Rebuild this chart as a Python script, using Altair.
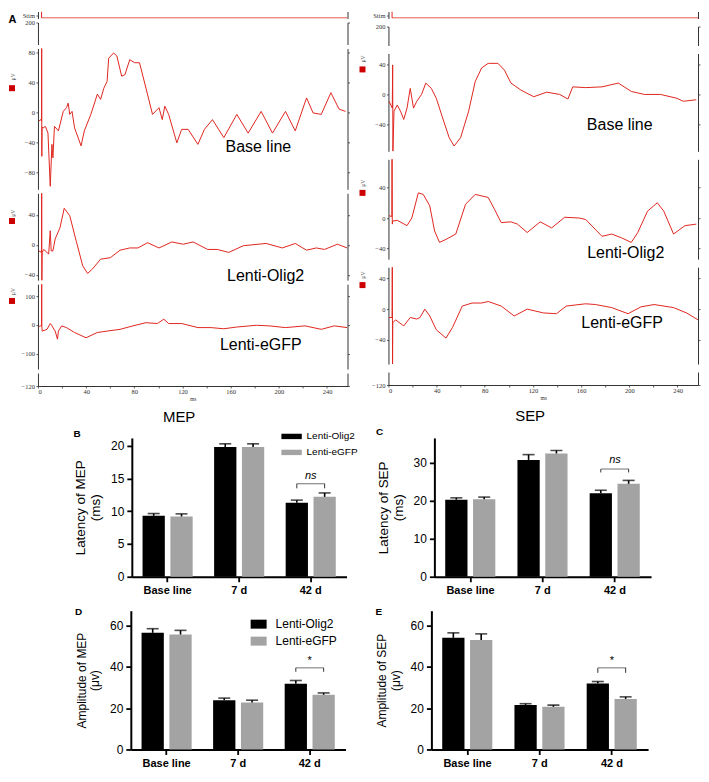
import altair as alt
import pandas as pd

SANS = "Liberation Sans"
SERIF = "Liberation Serif"
RED = "#e0261f"
SQ_RED = "#cc0000"
AXC = "#333333"

# ---------------- Panel A traces: time (ms) and amplitude (uV) ----------------
MEP_BASE_T = [0.8, 2.2, 3.0, 3.1, 3.2, 3.4, 4.3, 6.2, 8.3, 10.2, 11.6, 12.4, 13.7, 17.0, 21.0, 23.7, 25.1, 26.4,
              28.3, 30.4, 35.8, 38.5, 43.9, 49.3, 52.0, 54.7, 57.4, 58.7, 62.8, 65.5, 69.5, 72.2, 76.2, 80.3,
              84.3, 89.7, 95.1, 100.5, 103.2, 105.3, 108.5, 115.3, 119.3, 124.7, 132.8, 138.2, 144.9, 154.3,
              165.1, 174.5, 185.3, 194.7, 205.5, 213.6, 223.0, 228.4, 235.2, 243.2, 250.0, 255.4]
MEP_BASE_V = [-12, -10, -12, 120, -59, -20, -21, -19, -28, -99, -43, -61, -19, -25, 1, 6, 12, -3,
              1, -21, -45, -25, -3, 24, 17, 32, 41, 72, 79, 75, 48, 50, 70, 66,
              66, 32, -3, 6, -10, 8, -3, -41, -23, -23, -43, -23, -10, -34,
              -3, -28, 1, -28, 1, -25, 19, -1, -3, 26, 4, 1]

MEP_OLIG2_T = [0.8, 3.0, 3.1, 3.2, 3.5, 4.8, 7.5, 8.9, 10.2, 11.0, 12.4, 14.3, 18.3, 21.8, 26.4, 31.8, 37.2,
               41.2, 45.3, 52.0, 60.1, 68.2, 76.2, 83.0, 91.0, 100.5, 111.2, 120.7, 128.8, 140.9, 149.0,
               158.4, 170.5, 189.4, 202.9, 213.6, 223.0, 231.1, 237.9, 248.6, 256.7]
MEP_OLIG2_V = [-8, -10, 120, -60, -10, -6, -10, -12, 19, -8, -8, 8, 23, 49, 39, 5, -28,
               -38, -32, -19, -17, -7, -4, -4, 3, -4, 4, 1, 4, -6, -6,
               -10, -1, 2, -4, 2, -7, -4, -6, 1, -4]

MEP_EGFP_T = [0.8, 2.2, 3.0, 3.1, 3.2, 3.5, 7.5, 10.2, 11.6, 14.3, 16.2, 17.0, 19.7, 23.7, 30.4, 39.9, 49.3,
              57.4, 68.2, 78.9, 89.7, 99.1, 104.5, 108.5, 119.3, 132.8, 143.6, 154.3, 165.1, 181.3, 192.0,
              205.5, 221.7, 235.2, 246.0, 256.7]
MEP_EGFP_V = [-5, -3, -3, 200, -3, -21, -15, 5, -3, -21, -49, -21, -3, -9, -26, -44, -26,
              -21, -15, -3, 8, 5, 20, 5, 5, -9, -9, -13, -7, -1, -3,
              -9, -3, -15, -3, -9]

SEP_BASE_T = [0.5, 3.2, 3.5, 3.7, 4.6, 7.3, 10.0, 12.7, 15.4, 18.1, 20.8, 23.5, 27.5, 31.0, 35.6, 39.7, 45.0,
              50.4, 54.5, 59.9, 66.6, 72.0, 77.4, 82.8, 90.9, 96.3, 101.7, 109.8, 120.6, 131.4, 142.2, 149.0,
              153.0, 163.8, 177.3, 190.8, 201.6, 212.4, 225.9, 239.4, 244.8, 255.6]
SEP_BASE_V = [-9, -18, 39, -75, -22, -14, -22, -33, -18, 8, -18, -9, 0, 15, 8, -5, -31,
              -57, -68, -57, -22, 17, 35, 41, 41, 32, 15, 6, -3, 3, 0, -6,
              10, 9, 10, 15, 4, 0, 0, -5, -9, -7]

SEP_OLIG2_T = [0.5, 2.8, 3.0, 3.2, 3.5, 7.3, 15.4, 19.4, 24.8, 28.9, 34.3, 38.3, 42.4, 47.8, 55.9, 64.0, 72.0,
               82.8, 88.2, 93.6, 101.7, 107.1, 115.2, 126.0, 135.5, 146.3, 158.4, 163.8, 177.3, 185.4, 193.5,
               201.6, 207.0, 215.1, 223.2, 228.6, 236.7, 246.2, 255.6]
SEP_OLIG2_V = [3, 2, 100, -8, -4, -3, -10, 0, 33, 31, 16, -17, -32, -28, -21, 18, 31,
               27, 11, -6, -5, -8, -19, -5, -13, 1, 0, -2, -24, -21, -26,
               -32, -19, 9, 20, 9, -21, -10, -8]

SEP_EGFP_T = [0.5, 3.0, 3.2, 3.4, 3.6, 5.9, 12.7, 18.1, 23.5, 26.2, 30.2, 34.3, 39.7, 47.8, 53.2, 61.3, 69.4,
              77.4, 82.8, 93.6, 104.4, 115.2, 128.7, 139.5, 147.6, 163.8, 171.9, 185.4, 198.9, 209.7, 220.5,
              236.7, 247.5, 256.9]
SEP_EGFP_V = [-11, -11, 100, -77, -18, -14, -22, -11, -13, -11, 0, -9, -27, -38, -24, 4, 8,
              8, 10, 4, -9, 0, -5, -6, 4, 7, 6, 2, -6, 3, 6,
              2, -5, -14]

STIM_T = [3.0, 3.0, 257.0]
STIM_V = [1.0, 0.08, 0.08]

X_TICKS = [0, 20, 40, 60, 80, 100, 120, 140, 160, 180, 200, 220, 240]

# ---------------- Panels B-E: bar values ----------------
CATS = ["Base line", "7 d", "42 d"]
GROUPS = ["Lenti-Olig2", "Lenti-eGFP"]

B_OLIG2 = [9.3, 19.8, 11.3]
B_OLIG2_ERR = [0.35, 0.5, 0.4]
B_EGFP = [9.2, 19.8, 12.2]
B_EGFP_ERR = [0.4, 0.5, 0.6]

C_OLIG2 = [20.3, 30.8, 22.0]
C_OLIG2_ERR = [0.5, 1.4, 0.8]
C_EGFP = [20.4, 32.5, 24.5]
C_EGFP_ERR = [0.6, 0.8, 0.9]

D_OLIG2 = [56.3, 23.8, 31.7]
D_OLIG2_ERR = [2.0, 1.0, 1.6]
D_EGFP = [55.5, 22.7, 26.4]
D_EGFP_ERR = [2.0, 1.1, 0.9]

E_OLIG2 = [53.9, 21.5, 31.9]
E_OLIG2_ERR = [2.4, 0.6, 0.9]
E_EGFP = [52.8, 20.6, 24.4]
E_EGFP_ERR = [3.0, 0.8, 1.0]

X_DOMAIN = [0, 257]
A_W = 310


def df_trace(t, v):
    return pd.DataFrame({"t": t, "v": v})


def xch(axis=None):
    return alt.X("t:Q", scale=alt.Scale(domain=X_DOMAIN, nice=False, zero=False), axis=axis)


X_AXIS = alt.Axis(values=X_TICKS, labelExpr="datum.value % 40 == 0 ? datum.label : ''",
                  labelFont=SERIF, labelFontSize=6.5, labelColor=AXC, labelPadding=1, tickSize=2,
                  tickColor=AXC, tickWidth=0.8, domainColor=AXC, domainWidth=1, grid=False,
                  title="ms", titleFont=SERIF, titleFontSize=5.5, titleFontWeight="normal",
                  titleColor=AXC, titlePadding=1)


def left_axis(values, label_expr=None, title=None, tx=None, ty=None, title_style=None):
    kw = dict(values=values, orient="left", grid=False, labelFont=SERIF, labelFontSize=6.5,
              labelColor=AXC, labelPadding=1.5, tickSize=2, tickColor=AXC, tickWidth=0.8,
              domainColor=AXC, domainWidth=1)
    if label_expr:
        kw["labelExpr"] = label_expr
    if title:
        kw.update(title=title, titleX=tx, titleY=ty, titleAlign="center", titleBaseline="middle")
        style = title_style or dict(titleFont=SERIF, titleFontSize=5.5, titleFontWeight="normal",
                                    titleColor=AXC, titleAngle=270)
        kw.update(style)
    else:
        kw["title"] = None
    return alt.Axis(**kw)


def right_axis(values):
    return alt.Axis(values=values, orient="right", grid=False, labels=False, tickSize=2,
                    tickColor=AXC, tickWidth=0.8, domainColor=AXC, domainWidth=1, title=None)


def strip(height, ydom, vals, data=None, lab=None, square=None, uv_y=None, uv_x=-25.5,
          bottom=False, stim=False, letter=None, label_expr=None):
    ysc = alt.Scale(domain=ydom, nice=False, zero=False)
    xa = X_AXIS if bottom else None
    if stim:
        title_kw = dict(title=letter, tx=-26, ty=7.5,
                        title_style=dict(titleFont=SANS, titleFontSize=11, titleFontWeight="bold",
                                         titleColor="black", titleAngle=0)) if letter else {}
        la = left_axis(vals, label_expr=label_expr, **title_kw)
    elif uv_y is not None:
        la = left_axis(vals, title="µV", tx=uv_x, ty=uv_y)
    else:
        la = left_axis(vals, label_expr=label_expr)
    if data is None:
        base_df = pd.DataFrame({"t": [100.0], "v": [ydom[0]]})
        main = alt.Chart(base_df).mark_point(opacity=0)
    else:
        base_df = data
        main = alt.Chart(data).mark_line(color=RED, strokeWidth=1, clip=True)
    main = main.encode(x=xch(xa), y=alt.Y("v:Q", scale=ysc, axis=la))
    layers = [main]
    layers.append(alt.Chart(base_df).mark_point(opacity=0).encode(
        x=xch(xa), y=alt.Y("v:Q", scale=ysc, axis=right_axis([] if stim else vals))))
    if lab is not None:
        tdf = pd.DataFrame({"t": [lab[1]], "v": [lab[2]], "s": [lab[0]]})
        layers.append(alt.Chart(tdf).mark_text(font=SANS, fontSize=16, color="black", align="center",
                                               baseline="middle").encode(
            x=xch(xa), y=alt.Y("v:Q", scale=ysc, axis=None), text="s:N"))
    if square is not None:
        sdf = pd.DataFrame({"v": [square]})
        layers.append(alt.Chart(sdf).mark_square(color=SQ_RED, size=36, opacity=1).encode(
            x=alt.value(-26), y=alt.Y("v:Q", scale=ysc, axis=None)))
    return alt.layer(*layers).resolve_axis(y="independent").properties(width=A_W, height=height)


def a_panel(title, specs, spacing):
    ch = alt.vconcat(*specs, spacing=spacing, bounds="flush").resolve_scale(y="independent")
    return ch.properties(title=alt.TitleParams(title, orient="bottom", frame="bounds", anchor="middle",
                                               font=SANS, fontSize=15, fontWeight="normal",
                                               color="black", offset=8))


stim_df = df_trace(STIM_T, STIM_V)

left_A = a_panel("MEP", [
    strip(7, [0, 1], [0.45], data=stim_df, stim=True, letter="A", label_expr="'Stim'"),
    strip(22, [150, 200], [200]),
    strip(141, [-103, 85], [80, 40, 0, -40, -80], data=df_trace(MEP_BASE_T, MEP_BASE_V),
          lab=("Base line", 183, -47), square=32, uv_y=28),
    strip(87, [-47, 69], [40, 0, -40], data=df_trace(MEP_OLIG2_T, MEP_OLIG2_V),
          lab=("Lenti-Olig2", 189, -41), square=32, uv_y=19.5),
    strip(85, [-152, 141], [100, 0, -100], data=df_trace(MEP_EGFP_T, MEP_EGFP_V),
          lab=("Lenti-eGFP", 185, -69), square=83, uv_y=7),
    strip(13, [-120, -104], [-120], bottom=True),
], spacing=4)

right_A = a_panel("SEP", [
    strip(7, [0, 1], [0.45], data=stim_df, stim=True, label_expr="'Stim'"),
    strip(19, [150, 200], [200]),
    strip(98, [-75, 54], [40, 0, -40], data=df_trace(SEP_BASE_T, SEP_BASE_V),
          lab=("Base line", 192, -40.7), square=33, uv_y=5),
    strip(100, [-54, 77], [40, 0, -40], data=df_trace(SEP_OLIG2_T, SEP_OLIG2_V),
          lab=("Lenti-Olig2", 197, -45.5), square=33, uv_y=23.5),
    strip(97, [-72, 55], [40, 0, -40], data=df_trace(SEP_EGFP_T, SEP_EGFP_V),
          lab=("Lenti-eGFP", 194, -18), square=31.5, uv_y=7.5),
    strip(13, [-120, -104], [-120], bottom=True),
], spacing=8)


def bar_panel(letter, olig, olig_err, egfp, egfp_err, ydom, yvals, ytitle, tsize, width, height,
              sig_low, sig_high, sig_text_y, sig_text, sig_italic, legend, title_offset):
    df = pd.DataFrame({
        "cat": CATS + CATS,
        "grp": [GROUPS[0]] * 3 + [GROUPS[1]] * 3,
        "val": olig + egfp,
        "hi": [v + e for v, e in zip(olig, olig_err)] + [v + e for v, e in zip(egfp, egfp_err)],
    })
    xaxis = alt.Axis(labelAngle=0, labelFont=SANS, labelFontSize=11, labelFontWeight="bold",
                     labelColor="black", labelPadding=3, tickSize=5, tickWidth=1.8, tickColor="black",
                     domainColor="black", domainWidth=2, grid=False, title=None)
    yaxis = alt.Axis(values=yvals, title=ytitle, titleFont=SANS, titleFontSize=tsize,
                     titleFontWeight="normal", titleColor="black", titlePadding=8,
                     titleLineHeight=tsize + 1.5, labelFont=SANS, labelFontSize=12, labelColor="black",
                     labelPadding=3, tickSize=5, tickWidth=1.8, tickColor="black", domainColor="black",
                     domainWidth=2, grid=False)
    xs = alt.X("cat:N", sort=CATS, scale=alt.Scale(domain=CATS, paddingInner=0.3, paddingOuter=0.15),
               axis=xaxis)
    xo = alt.XOffset("grp:N", sort=GROUPS, scale=alt.Scale(domain=GROUPS, paddingInner=0.2, paddingOuter=0))
    ysc = alt.Scale(domain=ydom, nice=False, zero=True)
    color = alt.Color("grp:N", sort=GROUPS, scale=alt.Scale(domain=GROUPS, range=["#000000", "#a3a3a3"]),
                      legend=legend)
    bars = alt.Chart(df).mark_bar().encode(x=xs, xOffset=xo, y=alt.Y("val:Q", scale=ysc, axis=yaxis),
                                           color=color)
    err = alt.Chart(df).mark_rule(color="black", strokeWidth=1.6).encode(
        x=xs, xOffset=xo, y=alt.Y("val:Q", scale=ysc, axis=yaxis), y2="hi:Q")
    cap = alt.Chart(df).mark_tick(color="black", thickness=1.6, size=12, orient="horizontal").encode(
        x=xs, xOffset=xo, y=alt.Y("hi:Q", scale=ysc, axis=yaxis))
    brv = pd.DataFrame({"cat": ["42 d", "42 d"], "grp": GROUPS, "lo": [sig_low] * 2, "hi": [sig_high] * 2})
    br_v = alt.Chart(brv).mark_rule(color="#333333", strokeWidth=1).encode(
        x=xs, xOffset=xo, y=alt.Y("lo:Q", scale=ysc, axis=yaxis), y2="hi:Q")
    brh = pd.DataFrame({"cat": ["42 d"], "hi": [sig_high]})
    br_h = alt.Chart(brh).mark_tick(color="#333333", thickness=1, size=28, orient="horizontal").encode(
        x=xs, y=alt.Y("hi:Q", scale=ysc, axis=yaxis))
    tdf = pd.DataFrame({"cat": ["42 d"], "y": [sig_text_y], "s": [sig_text]})
    txt = alt.Chart(tdf).mark_text(font=SANS, fontSize=11, fontStyle="italic" if sig_italic else "normal",
                                   color="#000000", baseline="middle").encode(
        x=xs, y=alt.Y("y:Q", scale=ysc, axis=yaxis), text="s:N")
    return alt.layer(bars, err, cap, br_v, br_h, txt).properties(
        width=width, height=height,
        title=alt.TitleParams(letter, anchor="start", frame="bounds", fontSize=10, fontWeight="bold",
                              font=SANS, color="black", offset=title_offset))


def legend_b(symbol, size, font_size, lx, ly, label_offset):
    return alt.Legend(orient="none", legendX=lx, legendY=ly, title=None, symbolType=symbol,
                      symbolSize=size, symbolStrokeWidth=0, labelFont=SANS, labelFontSize=font_size,
                      labelColor="black", labelOffset=label_offset, rowPadding=5, padding=0)


B = bar_panel("B", B_OLIG2, B_OLIG2_ERR, B_EGFP, B_EGFP_ERR, [0, 21.2], [0, 5, 10, 15, 20],
              ["Latency of MEP", "(ms)"], 13.5, 215, 139, 13.5, 14.2, 15.4, "ns", True,
              legend_b("M-1.7,-0.45H1.7V0.45H-1.7Z", 144, 10, 154, -7.5, 9), -8.5)
C = bar_panel("C", C_OLIG2, C_OLIG2_ERR, C_EGFP, C_EGFP_ERR, [0, 36.6], [0, 10, 20, 30],
              ["Latency of SEP", "(ms)"], 13.5, 217, 139, 27.5, 28.4, 30.7, "ns", True, None, 0.5)
D = bar_panel("D", D_OLIG2, D_OLIG2_ERR, D_EGFP, D_EGFP_ERR, [0, 67], [0, 20, 40, 60],
              ["Amplitude of MEP", "(μv)"], 12, 215, 139, 37.5, 39.4, 42.8, "*", False,
              legend_b("M-1.6,-0.9H1.6V0.9H-1.6Z", 100, 12, 122, 7.5, 11), -6)
E = bar_panel("E", E_OLIG2, E_OLIG2_ERR, E_EGFP, E_EGFP_ERR, [0, 67], [0, 20, 40, 60],
              ["Amplitude of SEP", "(μv)"], 12, 217, 139, 37.0, 39.4, 42.8, "*", False, None, -6)


def spacer(w, h):
    return alt.Chart(pd.DataFrame({"a": [0]})).mark_point(opacity=0).properties(width=w, height=h)


row1 = alt.hconcat(left_A, right_A, spacing=9).resolve_scale(x="independent", y="independent")
row2 = alt.hconcat(spacer(18, 167), B, C, spacing=17).resolve_scale(
    x="independent", y="independent", color="independent")
row3 = alt.hconcat(spacer(7, 10), D, E, spacing=30).resolve_scale(
    x="independent", y="independent", color="independent")

chart = alt.vconcat(row1, row2, row3, spacing=2).resolve_scale(
    x="independent", y="independent", color="independent"
).properties(padding=0).configure_view(stroke=None)

chart.save("out.html", embed_options={"renderer": "svg", "actions": False})
